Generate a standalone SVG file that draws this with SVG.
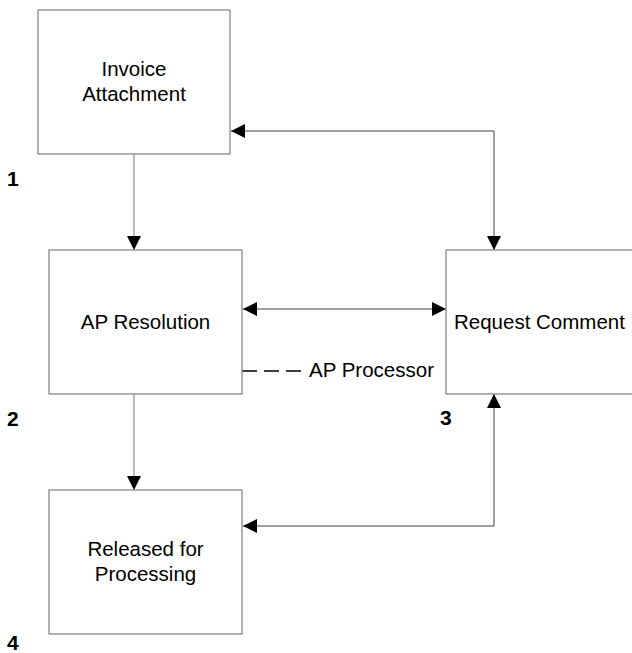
<svg xmlns="http://www.w3.org/2000/svg" width="632" height="653" viewBox="0 0 632 653">
  <style>
    .box { fill: #ffffff; stroke: #7f7f7f; stroke-width: 1.2; }
    .lbl { font-family: "Liberation Sans", Arial, sans-serif; font-size: 20.5px; fill: #000000; }
    .num { font-family: "Liberation Sans", Arial, sans-serif; font-size: 21px; font-weight: bold; fill: #000000; }
    .flow { fill: none; stroke: #909090; stroke-width: 1.2; }
    .link { fill: none; stroke: #404040; stroke-width: 1; }
    .dash { fill: none; stroke: #000000; stroke-width: 1.6; stroke-dasharray: 15 7; }
  </style>
  <defs>
    <marker id="head" viewBox="0 0 14 14" refX="14" refY="7" markerWidth="14" markerHeight="14" markerUnits="userSpaceOnUse" orient="auto-start-reverse">
      <path d="M0,0 L14,7 L0,14 Z" fill="#000000"/>
    </marker>
  </defs>

  <rect width="632" height="653" fill="#ffffff"/>

  <g id="connectors">
    <path class="flow" d="M134,154 V250" marker-end="url(#head)"/>
    <path class="flow" d="M134,394 V490" marker-end="url(#head)"/>
    <path class="link" d="M231,131 H494 V250" marker-start="url(#head)" marker-end="url(#head)"/>
    <path class="link" d="M243,309 H446" marker-start="url(#head)" marker-end="url(#head)"/>
    <path class="link" d="M494,394 V526 H243" marker-start="url(#head)" marker-end="url(#head)"/>
    <path class="dash" d="M242,371 H301"/>
    <text class="lbl" x="309" y="377">AP Processor</text>
  </g>

  <g id="invoice-attachment">
    <rect class="box" x="38" y="10" width="192" height="144"/>
    <text class="lbl" x="134" y="76" text-anchor="middle">Invoice</text>
    <text class="lbl" x="134" y="101" text-anchor="middle">Attachment</text>
    <text class="num" x="7" y="186">1</text>
  </g>

  <g id="ap-resolution">
    <rect class="box" x="49" y="250" width="193" height="144"/>
    <text class="lbl" x="145.5" y="329" text-anchor="middle">AP Resolution</text>
    <text class="num" x="7" y="426">2</text>
  </g>

  <g id="request-comment">
    <rect class="box" x="446" y="250" width="200" height="144"/>
    <text class="lbl" x="454" y="329">Request Comment</text>
    <text class="num" x="440" y="425">3</text>
  </g>

  <g id="released-for-processing">
    <rect class="box" x="49" y="490" width="193" height="144"/>
    <text class="lbl" x="145.5" y="556" text-anchor="middle">Released for</text>
    <text class="lbl" x="145.5" y="581" text-anchor="middle">Processing</text>
    <text class="num" x="7" y="650">4</text>
  </g>
</svg>
